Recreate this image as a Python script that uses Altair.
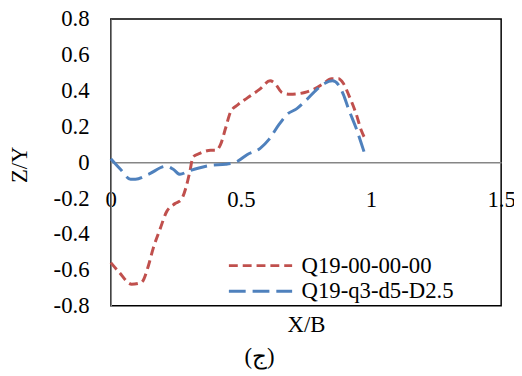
import altair as alt
import pandas as pd

series_names = ["Q19-00-00-00", "Q19-q3-d5-D2.5"]
series_colors = ["#C0504D", "#4F81BD"]
series_dashes = [[9, 5], [17, 7]]

red_x = [0.0, 0.03, 0.08, 0.118, 0.144, 0.163, 0.19, 0.213, 0.247, 0.27, 0.289, 0.304,
         0.316, 0.342, 0.384, 0.403, 0.422, 0.441, 0.46, 0.487, 0.525, 0.574, 0.612,
         0.631, 0.658, 0.688, 0.745, 0.783, 0.817, 0.848, 0.875, 0.894, 0.916, 0.943,
         0.962, 0.982]
red_y = [-0.56, -0.61, -0.68, -0.67, -0.58, -0.48, -0.37, -0.28, -0.23, -0.21, -0.14, -0.05,
         0.03, 0.05, 0.067, 0.067, 0.10, 0.19, 0.28, 0.32, 0.36, 0.41, 0.455,
         0.44, 0.39, 0.38, 0.39, 0.41, 0.44, 0.467, 0.467, 0.44, 0.37, 0.27,
         0.18, 0.12]

blue_x = [0.0, 0.038, 0.076, 0.095, 0.144, 0.213, 0.24, 0.266, 0.297, 0.335, 0.384, 0.441,
          0.487, 0.525, 0.574, 0.608, 0.646, 0.677, 0.715, 0.753, 0.79, 0.821, 0.852,
          0.875, 0.894, 0.913, 0.943, 0.973]
blue_y = [0.02, -0.04, -0.094, -0.094, -0.067, -0.022, -0.039, -0.067, -0.05, -0.033, -0.017, -0.011,
          0.006, 0.044, 0.078, 0.128, 0.21, 0.267, 0.30, 0.35, 0.405, 0.44, 0.455,
          0.433, 0.378, 0.30, 0.19, 0.06]

x_ticks = [0, 0.5, 1, 1.5]
y_ticks = [-0.8, -0.6, -0.4, -0.2, 0, 0.2, 0.4, 0.6, 0.8]

rows = []
for name, xs, ys in [(series_names[0], red_x, red_y), (series_names[1], blue_x, blue_y)]:
    for i, (xv, yv) in enumerate(zip(xs, ys)):
        rows.append({"series": name, "x": xv, "y": yv, "i": i})
df = pd.DataFrame(rows)

FONT = "Liberation Serif"
FS = 23
W, H = 395, 290

legend = alt.Legend(
    title=None, orient="none", legendX=140, legendY=238, padding=0,
    symbolType="M-3.2,0H3.2", symbolSize=400, symbolStrokeWidth=3,
    labelFont=FONT, labelFontSize=FS, labelColor="black", labelOffset=30,
    rowPadding=2, labelLimit=300,
)

chart = alt.Chart(df).mark_line(strokeWidth=3, interpolate="monotone").encode(
    x=alt.X("x:Q",
            scale=alt.Scale(domain=[0, 1.5], nice=False, zero=False),
            axis=alt.Axis(values=x_ticks, title="X/B", offset=-145, ticks=False, tickSize=0,
                          grid=False, domainColor="#868686", domainWidth=1.5,
                          labelFont=FONT, labelFontSize=FS, labelColor="black",
                          labelPadding=38, labelBaseline="middle", labelFlush=False,
                          labelOverlap=False, labelBound=False,
                          labelExpr="format(datum.value, '~g')",
                          titleFont=FONT, titleFontSize=FS, titleFontWeight="normal",
                          titleColor="black", titleY=164, titleBaseline="middle")),
    y=alt.Y("y:Q",
            scale=alt.Scale(domain=[-0.8, 0.8], nice=False, zero=False),
            axis=alt.Axis(values=y_ticks, title="Z/Y", ticks=False, tickSize=0, grid=False,
                          domainColor="#868686", domainWidth=1.5,
                          labelFont=FONT, labelFontSize=FS, labelColor="black",
                          labelPadding=22, labelFlush=False, labelOverlap=False,
                          labelBound=False,
                          labelExpr="datum.value == 0 ? '0' : (datum.value < 0 ? '-' : '') + format(abs(datum.value), '.1f')",
                          titleFont=FONT, titleFontSize=FS, titleFontWeight="normal",
                          titleColor="black", titleX=-92, titleY=147,
                          titleAlign="center", titleBaseline="middle")),
    color=alt.Color("series:N", scale=alt.Scale(domain=series_names, range=series_colors),
                    legend=legend),
    strokeDash=alt.StrokeDash("series:N", scale=alt.Scale(domain=series_names, range=series_dashes),
                              legend=legend),
    order="i:Q",
).properties(
    width=W, height=H,
    autosize=alt.AutoSizeParams(type="none"),
    padding={"left": 104, "top": 9, "right": 13, "bottom": 67},
    title=alt.TitleParams("(ج)", orient="bottom", anchor="middle",
                          dx=-47, offset=10,
                          font=FONT, fontSize=FS, fontWeight="normal", color="black"),
).configure_view(
    stroke="black", strokeWidth=1.5
)

chart.save("out.html", embed_options={"renderer": "svg", "actions": False})
